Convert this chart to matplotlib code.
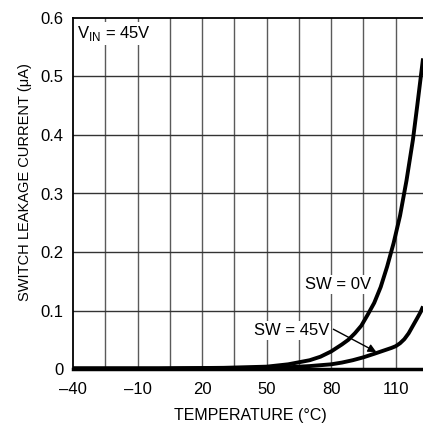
import matplotlib
matplotlib.use('agg')
import matplotlib.pyplot as plt

# SW = 0V curve
temp_0v = [-40, 0, 30, 50, 60, 70, 75, 80, 85, 88, 91, 94, 97, 100, 103, 106, 109,
           112, 115, 118, 120, 122.7]
leak_0v = [0.001, 0.001, 0.002, 0.004, 0.008, 0.015, 0.021, 0.030, 0.042, 0.050, 0.061,
           0.074, 0.093, 0.113, 0.140, 0.175, 0.215, 0.262, 0.322, 0.392, 0.450, 0.531]

# SW = 45V curve
temp_45v = [-40, 0, 30, 50, 60, 70, 80, 85, 90, 95, 100, 104, 108, 110, 112, 114, 116,
            118, 120, 121.5, 122.7]
leak_45v = [0.001, 0.001, 0.0015, 0.002, 0.003, 0.005, 0.008, 0.011, 0.015, 0.020, 0.026,
            0.031, 0.036, 0.039, 0.044, 0.051, 0.061, 0.074, 0.087, 0.097, 0.107]

x_ticks = [-40, -10, 20, 50, 80, 110]
x_ticklabels = ['\u201340', '\u201310', '20', '50', '80', '110']
y_ticks = [0, 0.1, 0.2, 0.3, 0.4, 0.5, 0.6]
y_ticklabels = ['0', '0.1', '0.2', '0.3', '0.4', '0.5', '0.6']

plt.rcParams['font.family'] = ['Liberation Sans', 'DejaVu Sans']

fig = plt.figure(figsize=(4.23, 4.23), dpi=100)
ax = fig.add_axes([73 / 423, 54 / 423, 355 / 423, 351 / 423])

ax.set_xlim(-40, 125)
ax.set_ylim(0, 0.6)

# grid every 15 degC and 0.1 uA
for t in range(-25, 125, 15):
    ax.axvline(t, color='#5a5a5a', lw=1.0, zorder=1)
for v in [0.1, 0.2, 0.3, 0.4, 0.5]:
    ax.axhline(v, color='#333333', lw=1.0, zorder=1)

ax.plot(temp_0v, leak_0v, color='black', lw=2.8, zorder=3, solid_capstyle='butt')
ax.plot(temp_45v, leak_45v, color='black', lw=2.8, zorder=3, solid_capstyle='butt')

ax.set_xticks(x_ticks)
ax.set_xticklabels(x_ticklabels, fontsize=12)
ax.set_yticks(y_ticks)
ax.set_yticklabels(y_ticklabels, fontsize=12)
ax.tick_params(axis='x', length=0, pad=9)
ax.tick_params(axis='y', length=0, pad=7)

for s in ['left', 'top', 'right']:
    ax.spines[s].set_linewidth(1.3)
ax.spines['bottom'].set_linewidth(2.5)

fig.text(250 / 423, 1 - 415 / 423, 'TEMPERATURE (\u00b0C)', fontsize=11.5,
         ha='center', va='center')
fig.text(25 / 423, 1 - 182 / 423, 'SWITCH LEAKAGE CURRENT (\u03bcA)', fontsize=10.5,
         ha='center', va='center', rotation=90)

box = dict(facecolor='white', edgecolor='none', pad=1.5)
ax.text(-38, 0.573, 'V$_{\\mathregular{IN}}$ = 45V', fontsize=12, va='center', ha='left',
        bbox=box, zorder=4)
ax.text(83, 0.144, 'SW = 0V', fontsize=12, va='center', ha='center', bbox=box, zorder=4)
ax.text(61.5, 0.066, 'SW = 45V', fontsize=12, va='center', ha='center', bbox=box, zorder=4)

ax.annotate('', xy=(101, 0.029), xytext=(81, 0.068),
            arrowprops=dict(arrowstyle='-|>', color='black', lw=1.0,
                            mutation_scale=12, shrinkA=0, shrinkB=0), zorder=5)

fig.savefig('out.png', dpi=100)
plt.close(fig)
